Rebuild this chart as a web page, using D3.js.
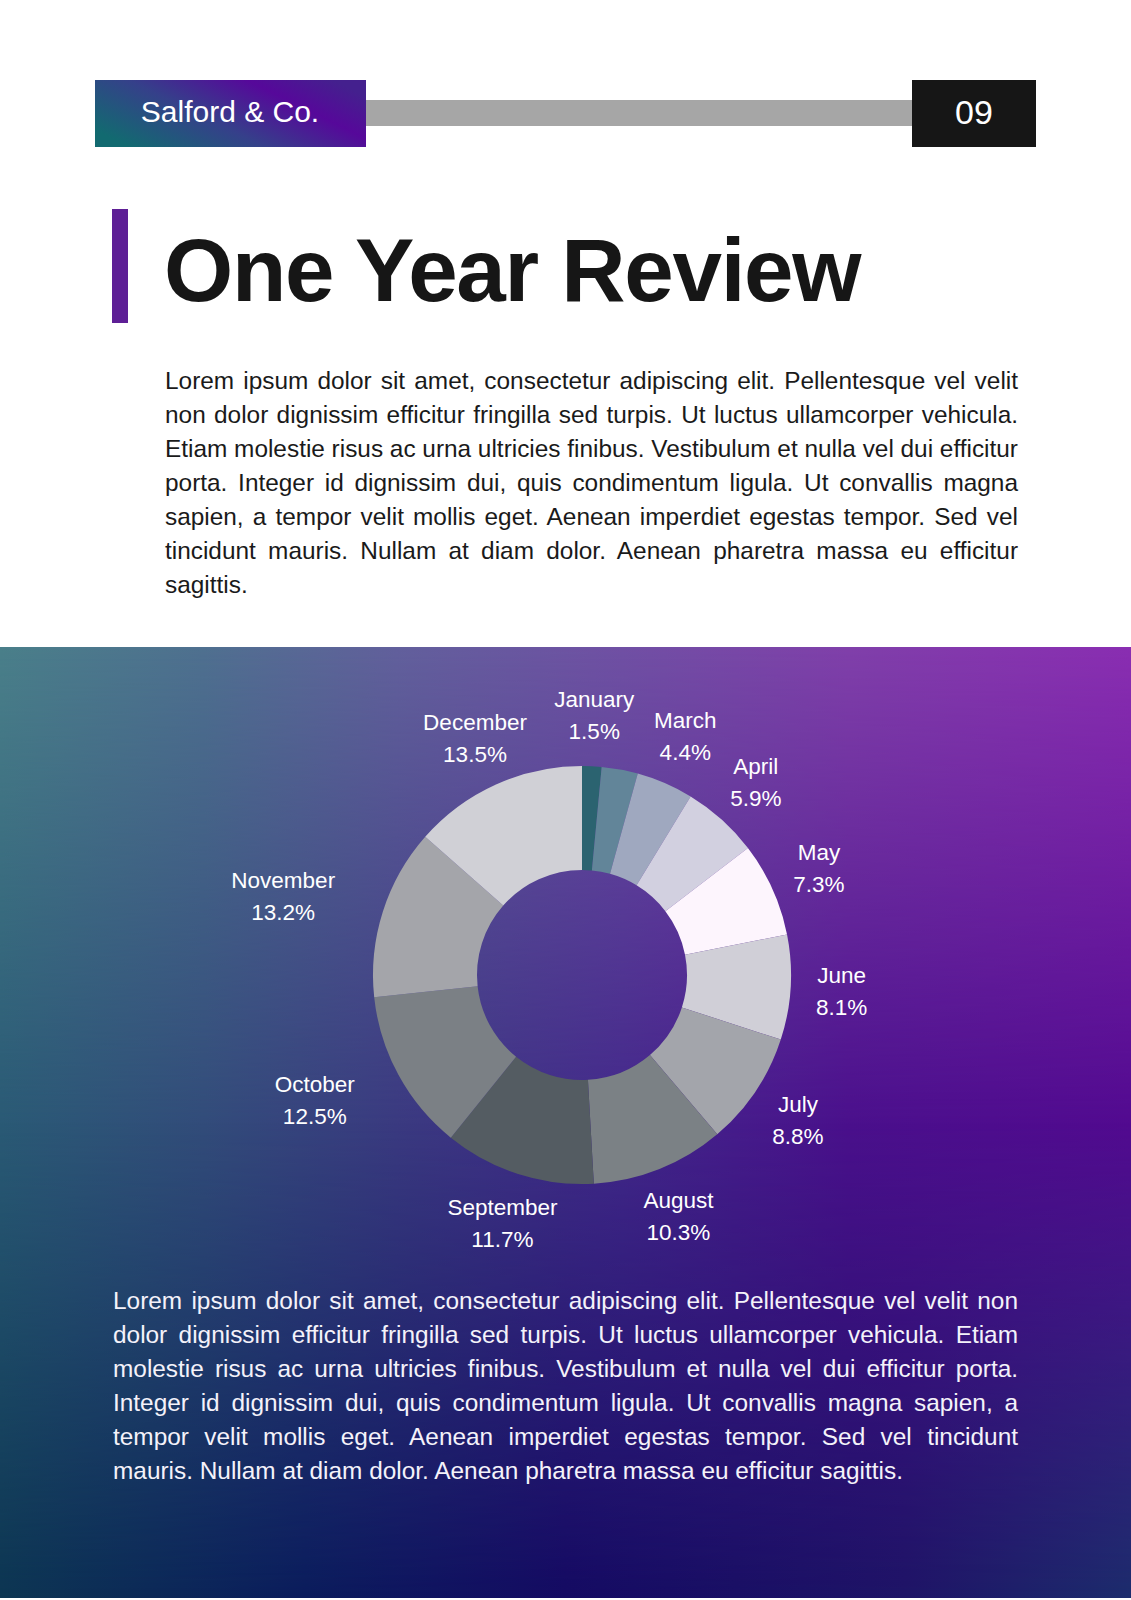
<!DOCTYPE html>
<html>
<head>
<meta charset="utf-8">
<script src="https://cdn.jsdelivr.net/npm/d3@7"></script>
<style>
  html, body { margin: 0; padding: 0; background: #ffffff; }
  svg { display: block; font-family: "Liberation Sans", Arial, Helvetica, sans-serif; }
</style>
</head>
<body>
<svg id="page"></svg>
<script>
// chart data
let months = ['January', 'February', 'March', 'April', 'May', 'June',
    'July', 'August', 'September', 'October', 'November', 'December'];
let shares = [1.5, 2.8, 4.4, 5.9, 7.3, 8.1, 8.8, 10.3, 11.7, 12.5, 13.2, 13.5];
let sliceColors = ['#2b6370', '#628599', '#9fa8bf', '#d2d0e0', '#fdf5fd', '#d0cfd7',
    '#a3a5ab', '#7b8185', '#545c62', '#7b8085', '#a4a5aa', '#d0d0d6'];
let hiddenLabels = ['February'];

let introLines = [
    'Lorem ipsum dolor sit amet, consectetur adipiscing elit. Pellentesque vel velit',
    'non dolor dignissim efficitur fringilla sed turpis. Ut luctus ullamcorper vehicula.',
    'Etiam molestie risus ac urna ultricies finibus. Vestibulum et nulla vel dui efficitur',
    'porta. Integer id dignissim dui, quis condimentum ligula. Ut convallis magna',
    'sapien, a tempor velit mollis eget. Aenean imperdiet egestas tempor. Sed vel',
    'tincidunt mauris. Nullam at diam dolor. Aenean pharetra massa eu efficitur',
    'sagittis.'
];
let outroLines = [
    'Lorem ipsum dolor sit amet, consectetur adipiscing elit. Pellentesque vel velit non',
    'dolor dignissim efficitur fringilla sed turpis. Ut luctus ullamcorper vehicula. Etiam',
    'molestie risus ac urna ultricies finibus. Vestibulum et nulla vel dui efficitur porta.',
    'Integer id dignissim dui, quis condimentum ligula. Ut convallis magna sapien, a',
    'tempor velit mollis eget. Aenean imperdiet egestas tempor. Sed vel tincidunt',
    'mauris. Nullam at diam dolor. Aenean pharetra massa eu efficitur sagittis.'
];

let width = 1131;
let height = 1600;

let svg = d3.select('#page')
    .attr('width', width)
    .attr('height', height);

let defs = svg.append('defs');

function addGradient(id, stops, x1, y1, x2, y2) {
    let g = defs.append('linearGradient')
        .attr('id', id)
        .attr('x1', x1).attr('y1', y1)
        .attr('x2', x2).attr('y2', y2);
    stops.forEach(function (s) {
        g.append('stop')
            .attr('offset', s[0])
            .attr('stop-color', s[1])
            .attr('stop-opacity', s.length > 2 ? s[2] : 1);
    });
}

// header badge
addGradient('badge', [[0, '#126a70'], [0.4, '#35408a'], [0.75, '#56089a'], [1, '#44208e']], 0, 0.75, 1, 0.25);

// panel background, three horizontal rows blended vertically
addGradient('rowTop', [[0, '#4a7f8a'], [0.18, '#4f7090'], [0.35, '#62609c'],
    [0.55, '#7050a4'], [0.75, '#8040aa'], [1, '#8a2eb2']], 0, 0, 1, 0);
addGradient('rowMid', [[0, '#2a5a75'], [0.18, '#324c7a'], [0.35, '#3a3a80'],
    [0.55, '#42288a'], [0.75, '#4a108c'], [1, '#520a90']], 0, 0, 1, 0);
addGradient('rowBot', [[0, '#0c3552'], [0.27, '#0a1c5c'], [0.5, '#140a62'],
    [0.8, '#1e1466'], [1, '#1c2c6c']], 0, 0, 1, 0);
addGradient('fadeMid', [[0, '#fff', 0], [0.5, '#fff', 1], [1, '#fff', 1]], 0, 0, 0, 1);
addGradient('fadeBot', [[0, '#fff', 0], [0.5, '#fff', 0], [1, '#fff', 1]], 0, 0, 0, 1);

let panel = {top: 647, bottom: 1598};

defs.append('mask').attr('id', 'maskMid')
    .append('rect')
    .attr('x', 0).attr('y', panel.top)
    .attr('width', width).attr('height', panel.bottom - panel.top)
    .attr('fill', 'url(#fadeMid)');
defs.append('mask').attr('id', 'maskBot')
    .append('rect')
    .attr('x', 0).attr('y', panel.top)
    .attr('width', width).attr('height', panel.bottom - panel.top)
    .attr('fill', 'url(#fadeBot)');

[['rowTop', null], ['rowMid', 'maskMid'], ['rowBot', 'maskBot']].forEach(function (layer) {
    let r = svg.append('rect')
        .attr('x', 0).attr('y', panel.top)
        .attr('width', width).attr('height', panel.bottom - panel.top)
        .attr('fill', 'url(#' + layer[0] + ')');
    if (layer[1]) r.attr('mask', 'url(#' + layer[1] + ')');
});

// header
svg.append('rect')
    .attr('x', 365).attr('y', 100)
    .attr('width', 548).attr('height', 26)
    .attr('fill', '#a6a6a6');
svg.append('rect')
    .attr('x', 95).attr('y', 80)
    .attr('width', 271).attr('height', 67)
    .attr('fill', 'url(#badge)');
svg.append('text')
    .attr('x', 230).attr('y', 122)
    .attr('text-anchor', 'middle')
    .attr('font-size', 30)
    .attr('fill', '#ffffff')
    .text('Salford & Co.');
svg.append('rect')
    .attr('x', 912).attr('y', 80)
    .attr('width', 124).attr('height', 67)
    .attr('fill', '#161616');
svg.append('text')
    .attr('x', 974).attr('y', 124)
    .attr('text-anchor', 'middle')
    .attr('font-size', 34)
    .attr('fill', '#ffffff')
    .text('09');

// title
svg.append('rect')
    .attr('x', 112).attr('y', 209)
    .attr('width', 16).attr('height', 114)
    .attr('fill', '#5e1f96');
svg.append('text')
    .attr('x', 164).attr('y', 301)
    .attr('font-size', 89)
    .attr('font-weight', 'bold')
    .attr('letter-spacing', -1.3)
    .attr('fill', '#161616')
    .text('One Year Review');

// justified paragraph: stretch word spacing on every line but the last
function paragraph(lines, x, y0, lineWidth, color) {
    let g = svg.append('g');
    lines.forEach(function (line, i) {
        let t = g.append('text')
            .attr('x', x)
            .attr('y', y0 + i * 34)
            .attr('font-size', 24.4)
            .attr('fill', color)
            .text(line);
        if (i < lines.length - 1) {
            let natural = t.node().getComputedTextLength();
            let gaps = line.split(' ').length - 1;
            if (gaps > 0) {
                t.attr('word-spacing', (lineWidth - natural) / gaps);
            }
        }
    });
}

paragraph(introLines, 165, 389, 853, '#1a1a1a');
paragraph(outroLines, 113, 1309, 905, '#f4f2fa');

// donut
let cx = 582, cy = 975;
let outerR = 209, innerR = 105, labelR = 260;
let labelNudge = {October: -39, November: -51};

let pie = d3.pie()
    .sort(null)
    .value(function (d) { return d.share; });

let slices = pie(months.map(function (m, i) {
    return {month: m, share: shares[i], color: sliceColors[i]};
}));

let arc = d3.arc().innerRadius(innerR).outerRadius(outerR);
let labelArc = d3.arc().innerRadius(labelR).outerRadius(labelR);

let donut = svg.append('g')
    .attr('transform', 'translate(' + cx + ',' + cy + ')');

donut.selectAll('path')
    .data(slices)
    .enter()
    .append('path')
    .attr('d', arc)
    .attr('fill', function (d) { return d.data.color; });

let labels = donut.selectAll('.label')
    .data(slices.filter(function (d) {
        return hiddenLabels.indexOf(d.data.month) < 0;
    }))
    .enter()
    .append('g')
    .attr('class', 'label')
    .attr('transform', function (d) {
        let c = labelArc.centroid(d);
        return 'translate(' + (c[0] + (labelNudge[d.data.month] || 0)) + ',' + c[1] + ')';
    });

labels.append('text')
    .attr('y', -8)
    .attr('text-anchor', 'middle')
    .attr('font-size', 22.5)
    .attr('fill', '#ffffff')
    .text(function (d) { return d.data.month; });

labels.append('text')
    .attr('y', 24)
    .attr('text-anchor', 'middle')
    .attr('font-size', 22.5)
    .attr('fill', '#ffffff')
    .text(function (d) { return d.data.share.toFixed(1) + '%'; });
</script>
</body>
</html>
